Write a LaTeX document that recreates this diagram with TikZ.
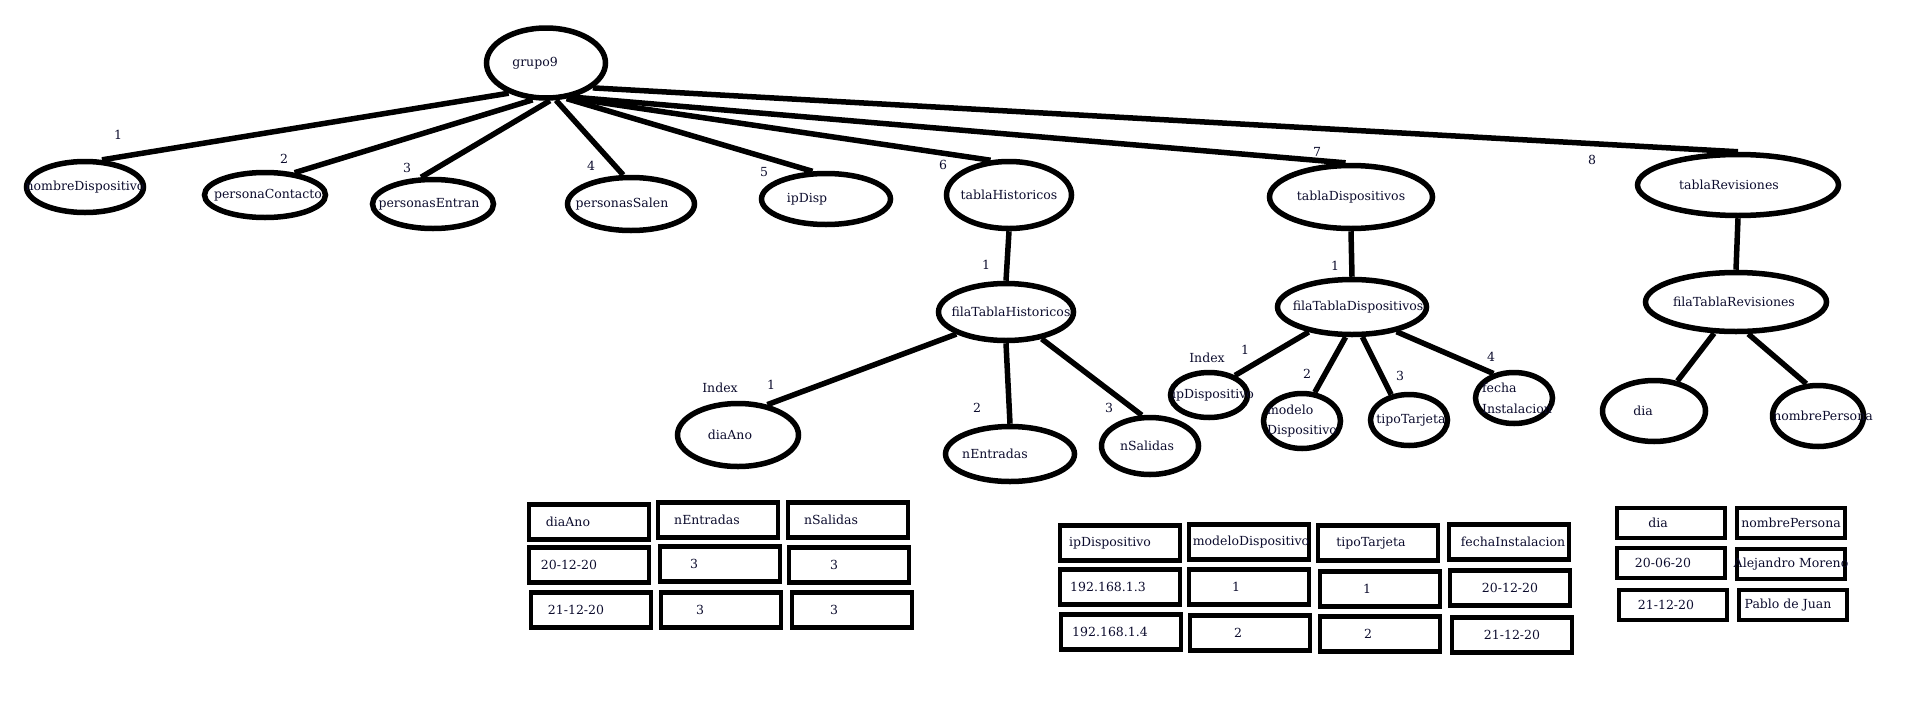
\documentclass[tikz,border=0pt]{standalone}
\usepackage{fontspec}
\setmainfont{DejaVu Serif}
\usepackage{tikz}
\usetikzlibrary{shapes.geometric}
\definecolor{tinta}{RGB}{12,12,45}
% texto de ancho cero, con desplazamiento opcional
\newcommand{\ct}[2][0pt]{\makebox[0pt]{\hspace*{#1}#2\hspace*{-#1}}}

\begin{document}
\begin{tikzpicture}[x=1pt,y=-1pt,every node/.style={font=\fontsize{12.5}{14}\selectfont}]%
  \tikzstyle{elip}=[ellipse,draw,line width=5.5pt,inner sep=0pt,text=tinta]
  \tikzstyle{celda}=[rectangle,draw,line width=4.5pt,minimum width=120pt,minimum height=35pt,text=tinta]
  \tikzstyle{num}=[text=tinta,inner sep=1pt]
  \tikzstyle{arista}=[line width=5.5pt]
  \useasboundingbox (0,0) rectangle (1914,707);
  % raiz y primer nivel
  \node(g)[elip,minimum width=119pt,minimum height=70pt] at (546,63) {\ct[-11pt]{grupo9}};
  \node(nd)[elip,minimum width=117pt,minimum height=51pt] at (85,187) {\ct{nombreDispositivo}};
  \node(pc)[elip,minimum width=121pt,minimum height=45pt] at (265,195) {\ct[3pt]{personaContacto}};
  \node(pe)[elip,minimum width=121pt,minimum height=49pt] at (433,204) {\ct[-4pt]{personasEntran}};
  \node(ps)[elip,minimum width=127pt,minimum height=53pt] at (631,204) {\ct[-9pt]{personasSalen}};
  \node(ip)[elip,minimum width=129pt,minimum height=51pt] at (826,199) {\ct[-19pt]{ipDisp}};
  \node(th)[elip,minimum width=125pt,minimum height=67pt] at (1009,195) {\ct{tablaHistoricos}};
  \node(td)[elip,minimum width=163pt,minimum height=63pt] at (1351,197) {\ct{tablaDispositivos}};
  \node(tr)[elip,minimum width=201pt,minimum height=61pt] at (1738,185) {\ct[-9pt]{tablaRevisiones}};
  % filas
  \node(fh)[elip,minimum width=135pt,minimum height=57pt] at (1006,312) {\ct[5pt]{filaTablaHistoricos}};
  \node(fd)[elip,minimum width=149pt,minimum height=55pt] at (1352,307) {\ct[6pt]{filaTablaDispositivos}};
  \node(fr)[elip,minimum width=181pt,minimum height=59pt] at (1736,302) {\ct[-2pt]{filaTablaRevisiones}};
  % campos
  \node(da)[elip,minimum width=121pt,minimum height=63pt] at (738,435) {\ct[-8pt]{diaAno}};
  \node(ne)[elip,minimum width=129pt,minimum height=55pt] at (1010,454) {\ct[-15pt]{nEntradas}};
  \node(nsal)[elip,minimum width=97pt,minimum height=57pt] at (1150,446) {\ct[-3pt]{nSalidas}};
  \node(ipd)[elip,minimum width=77pt,minimum height=45pt] at (1209,395) {\ct[4pt]{ipDispositivo}};
  \node(md)[elip,minimum width=77pt,minimum height=55pt] at (1302,421) {\ct{\shortstack[l]{modelo\\[8pt]Dispositivo}}};
  \node(tt)[elip,minimum width=77pt,minimum height=51pt] at (1409,420) {\ct[2pt]{tipoTarjeta}};
  \node(fi)[elip,minimum width=77pt,minimum height=51pt] at (1514,398) {\ct[3pt]{\shortstack[l]{fecha\\[8pt]Instalacion}}};
  \node(di)[elip,minimum width=103pt,minimum height=61pt] at (1654,411) {\ct[-11pt]{dia}};
  \node(np)[elip,minimum width=91pt,minimum height=61pt] at (1818,416) {\ct[5pt]{nombrePersona}};
  % aristas
  \draw[arista] (g.219) -- (nd.58);
  \draw[arista] (g.250) -- (pc.37);
  \draw[arista] (g.276) -- (pe.114);
  \draw[arista] (g.285) -- (ps.105);
  \draw[arista] (g.300) -- (ip.116);
  \draw[arista] (g.304) -- (th.118);
  \draw[arista] (g.308) -- (td.99);
  \draw[arista] (g.332) -- (tr.north);
  \draw[arista] (th.south) -- (fh.north);
  \draw[arista] (td.south) -- (fd.north);
  \draw[arista] (tr.south) -- (fr.north);
  \draw[arista] (fh.204) -- (da.46);
  \draw[arista] (fh.south) -- (ne.north);
  \draw[arista] (fh.323) -- (nsal.105);
  \draw[arista] (fd.210) -- (ipd.37);
  \draw[arista] (fd.258) -- (md.66);
  \draw[arista] (fd.289) -- (tt.125);
  \draw[arista] (fd.331) -- (fi.130);
  \draw[arista] (fr.235) -- (di.52);
  \draw[arista] (fr.291) -- (np.110);
  % numeros
  \node(l1)[num] at (118,135) {1};
  \node(l2)[num] at (284,159) {2};
  \node(l3)[num] at (407,168) {3};
  \node(l4)[num] at (591,166) {4};
  \node(l5)[num] at (764,172) {5};
  \node(l6)[num] at (943,165) {6};
  \node(l7)[num] at (1317,152) {7};
  \node(l8)[num] at (1592,160) {8};
  \node(lh)[num] at (986,265) {1};
  \node(ld)[num] at (1335,266) {1};
  \node(ixh)[num] at (720,388) {Index};
  \node(lh1)[num] at (771,385) {1};
  \node(lh2)[num] at (977,408) {2};
  \node(lh3)[num] at (1109,408) {3};
  \node(ixd)[num] at (1207,358) {Index};
  \node(ld1)[num] at (1245,350) {1};
  \node(ld2)[num] at (1307,374) {2};
  \node(ld3)[num] at (1400,376) {3};
  \node(ld4)[num] at (1491,357) {4};
  % tabla historicos
  \node(h11)[celda] at (589,522) {\ct[-21pt]{diaAno}};
  \node(h12)[celda] at (718,520) {\ct[-11pt]{nEntradas}};
  \node(h13)[celda] at (848,520) {\ct[-17pt]{nSalidas}};
  \node(h21)[celda] at (589,565) {\ct[-20pt]{20-12-20}};
  \node(h22)[celda] at (720,564) {\ct[-26pt]{3}};
  \node(h23)[celda] at (849,565) {\ct[-15pt]{3}};
  \node(h31)[celda] at (591,610) {\ct[-15pt]{21-12-20}};
  \node(h32)[celda] at (721,610) {\ct[-21pt]{3}};
  \node(h33)[celda] at (852,610) {\ct[-18pt]{3}};
  % tabla dispositivos
  \node(d11)[celda] at (1120,543) {\ct[-10pt]{ipDispositivo}};
  \node(d12)[celda] at (1249,542) {\ct[2pt]{modeloDispositivo}};
  \node(d13)[celda] at (1378,543) {\ct[-7pt]{tipoTarjeta}};
  \node(d14)[celda] at (1509,542) {\ct[4pt]{fechaInstalacion}};
  \node(d21)[celda] at (1120,587) {\ct[-12pt]{192.168.1.3}};
  \node(d22)[celda] at (1249,587) {\ct[-13pt]{1}};
  \node(d23)[celda] at (1380,589) {\ct[-13pt]{1}};
  \node(d24)[celda] at (1510,588) {\ct{20-12-20}};
  \node(d31)[celda] at (1121,632) {\ct[-11pt]{192.168.1.4}};
  \node(d32)[celda] at (1250,633) {\ct[-12pt]{2}};
  \node(d33)[celda] at (1380,634) {\ct[-12pt]{2}};
  \node(d34)[celda] at (1512,635) {\ct{21-12-20}};
  % tabla revisiones
  \tikzstyle{celdar}=[celda,minimum width=108pt,minimum height=30pt]
  \node(r11)[celdar] at (1671,523) {\ct[-13pt]{dia}};
  \node(r12)[celdar] at (1791,523) {\ct{nombrePersona}};
  \node(r21)[celdar] at (1671,563) {\ct[-8pt]{20-06-20}};
  \node(r22)[celdar] at (1791,564) {\ct{Alejandro Moreno}};
  \node(r31)[celdar] at (1673,605) {\ct[-7pt]{21-12-20}};
  \node(r32)[celdar] at (1793,605) {\ct[-5pt]{Pablo de Juan}};
\end{tikzpicture}
\end{document}
